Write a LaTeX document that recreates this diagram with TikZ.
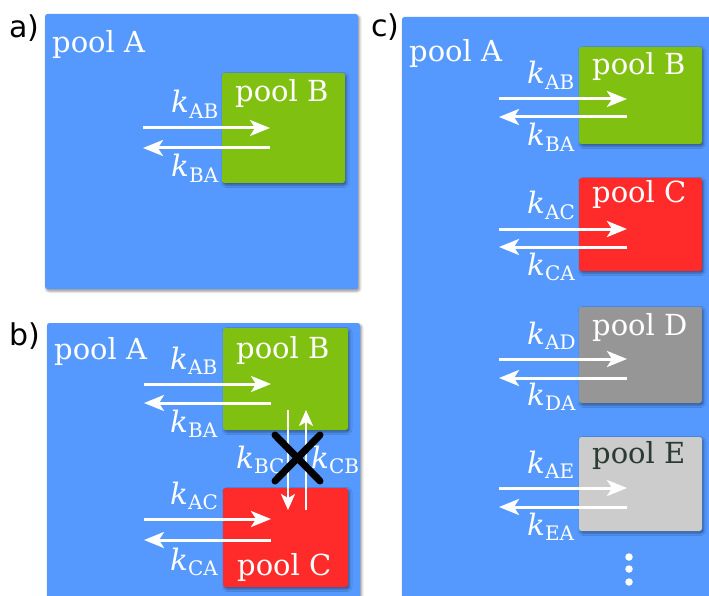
\documentclass[tikz,border=0pt]{standalone}
\usepackage{fontspec}
\setmainfont{DejaVu Serif}
\newfontfamily\panelfont{DejaVu Sans}
\usetikzlibrary{arrows.meta,shadows.blur}
\definecolor{poolblue}{HTML}{5599FF}
\definecolor{poolgreen}{HTML}{80C010}
\definecolor{poolred}{HTML}{FF2A2A}
\definecolor{poolgrey}{HTML}{969696}
\definecolor{poollight}{HTML}{CCCCCC}
\definecolor{darktext}{HTML}{2B3A33}
\newcommand{\krate}[1]{\textit{k}\raisebox{-5.5pt}{\fontsize{20}{20}\selectfont #1}}
\tikzset{
  poolbox/.style={draw=none, rounded corners=2.5pt, inner sep=0pt, outer sep=0pt, anchor=north west,
    blur shadow={shadow xshift=1.5pt, shadow yshift=-2pt, shadow blur radius=2.5pt, shadow opacity=45}},
  poollabel/.style={anchor=base west, inner sep=0pt, text=white, font=\fontsize{29}{29}\selectfont},
  klabel/.style={anchor=base west, inner sep=0pt, text=white, font=\fontsize{29.5}{29.5}\selectfont},
  panellabel/.style={anchor=base west, inner sep=0pt, text=black, font=\panelfont\fontsize{30}{30}\selectfont},
  flow/.style={draw=white, line width=3pt, -{Stealth[length=20pt,width=16pt,inset=5pt]}},
  thinflow/.style={draw=white, line width=2pt, -{Stealth[length=16pt,width=14pt,inset=4pt]}},
  cross/.style={draw=black, line width=7pt, line cap=round},
  dot/.style={circle, fill=white, draw=none, inner sep=0pt, minimum size=7.5pt}
}
\begin{document}
\begin{tikzpicture}[x=1pt,y=-1pt]
\useasboundingbox (0,0) rectangle (709,596);
\clip (0,0) rectangle (709,596);

% ---------------- panel a ----------------
\node[panellabel] (la) at (9,38) {a)};
\node[poolbox, fill=poolblue, minimum width=313pt, minimum height=275pt] (aA) at (45,14) {};
\node[poollabel] (aAt) at (52,53) {pool A};
\node[poolbox, fill=poolgreen, minimum width=123pt, minimum height=110pt] (aB) at (222,73) {};
\node[poollabel] (aBt) at (235,102) {pool B};
\coordinate (a1s) at (143,128); \coordinate (a1e) at (270,128);
\coordinate (a2s) at (270,148); \coordinate (a2e) at (143,148);
\draw[flow] (a1s) -- (a1e);
\draw[flow] (a2s) -- (a2e);
\node[klabel] (akab) at (171,113) {\krate{AB}};
\node[klabel] (akba) at (171,177) {\krate{BA}};

% ---------------- panel b ----------------
\node[panellabel] (lb) at (9,345) {b)};
\node[poolbox, fill=poolblue, minimum width=313pt, minimum height=280pt] (bA) at (47,323) {};
\node[poollabel] (bAt) at (54,359) {pool A};
\node[poolbox, fill=poolgreen, minimum width=125pt, minimum height=102pt] (bB) at (223,328) {};
\node[poollabel] (bBt) at (236,358) {pool B};
\node[poolbox, fill=poolred, minimum width=125pt, minimum height=99pt] (bC) at (223,488) {};
\node[poollabel] (bCt) at (237,575) {pool C};
\coordinate (b1s) at (144,384); \coordinate (b1e) at (271,384);
\coordinate (b2s) at (271,403); \coordinate (b2e) at (144,403);
\coordinate (b3s) at (144,519); \coordinate (b3e) at (271,519);
\coordinate (b4s) at (271,540); \coordinate (b4e) at (144,540);
\draw[flow] (b1s) -- (b1e);
\draw[flow] (b2s) -- (b2e);
\draw[flow] (b3s) -- (b3e);
\draw[flow] (b4s) -- (b4e);
\node[klabel] (bkab) at (170,369) {\krate{AB}};
\node[klabel] (bkba) at (170,432) {\krate{BA}};
\node[klabel] (bkac) at (170,504) {\krate{AC}};
\node[klabel] (bkca) at (170,570) {\krate{CA}};
\coordinate (bvs) at (288,410); \coordinate (bve) at (288,510);
\coordinate (bus) at (306,510); \coordinate (bue) at (306,410);
\draw[thinflow] (bvs) -- (bve);
\draw[thinflow] (bus) -- (bue);
\node[klabel] (bkbc) at (236,468) {\krate{BC}};
\node[klabel] (bkcb) at (311,468) {\krate{CB}};
\coordinate (x1) at (275,435); \coordinate (x2) at (320,481);
\coordinate (x3) at (320,435); \coordinate (x4) at (275,481);
\draw[cross] (x1) -- (x2);
\draw[cross] (x3) -- (x4);

% ---------------- panel c ----------------
\node[panellabel] (lc) at (371,37) {c)};
\node[poolbox, fill=poolblue, minimum width=312pt, minimum height=585pt] (cA) at (402,17) {};
\node[poollabel] (cAt) at (409,62) {pool A};
\node[poolbox, fill=poolgreen, minimum width=123pt, minimum height=97pt] (cB) at (579,47) {};
\node[poollabel] (cBt) at (592,75) {pool B};
\node[poolbox, fill=poolred, minimum width=123pt, minimum height=93pt] (cC) at (579,178) {};
\node[poollabel] (cCt) at (592,203) {pool C};
\node[poolbox, fill=poolgrey, minimum width=123pt, minimum height=96pt] (cD) at (579,307) {};
\node[poollabel] (cDt) at (592,335) {pool D};
\node[poolbox, fill=poollight, minimum width=123pt, minimum height=94pt] (cE) at (579,437) {};
\node[poollabel, text=darktext] (cEt) at (592,463) {pool E};

\coordinate (c1s) at (499,99);  \coordinate (c1e) at (627,99);
\coordinate (c2s) at (627,117); \coordinate (c2e) at (499,117);
\coordinate (c3s) at (499,229); \coordinate (c3e) at (627,229);
\coordinate (c4s) at (627,247); \coordinate (c4e) at (499,247);
\coordinate (c5s) at (499,359); \coordinate (c5e) at (627,359);
\coordinate (c6s) at (627,378); \coordinate (c6e) at (499,378);
\coordinate (c7s) at (499,488); \coordinate (c7e) at (627,488);
\coordinate (c8s) at (627,507); \coordinate (c8e) at (499,507);
\draw[flow] (c1s) -- (c1e);
\draw[flow] (c2s) -- (c2e);
\draw[flow] (c3s) -- (c3e);
\draw[flow] (c4s) -- (c4e);
\draw[flow] (c5s) -- (c5e);
\draw[flow] (c6s) -- (c6e);
\draw[flow] (c7s) -- (c7e);
\draw[flow] (c8s) -- (c8e);
\node[klabel] (ckab) at (527,84)  {\krate{AB}};
\node[klabel] (ckba) at (527,146) {\krate{BA}};
\node[klabel] (ckac) at (527,214) {\krate{AC}};
\node[klabel] (ckca) at (527,275) {\krate{CA}};
\node[klabel] (ckad) at (527,344) {\krate{AD}};
\node[klabel] (ckda) at (527,405) {\krate{DA}};
\node[klabel] (ckae) at (527,473) {\krate{AE}};
\node[klabel] (ckea) at (527,535) {\krate{EA}};
\node[dot] (d1) at (629,557) {};
\node[dot] (d2) at (629,569) {};
\node[dot] (d3) at (629,582) {};
\end{tikzpicture}
\end{document}
